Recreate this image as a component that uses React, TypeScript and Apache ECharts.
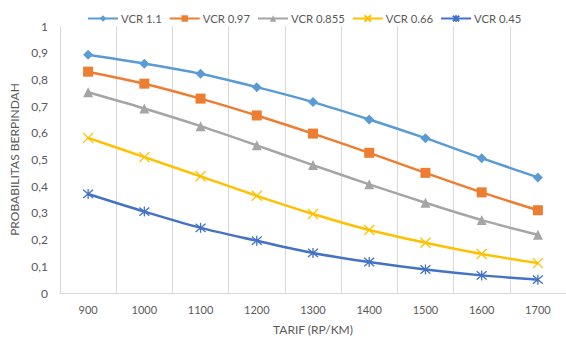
import React, { useEffect, useRef } from "react";
import * as echarts from "echarts";

const categories = ["900", "1000", "1100", "1200", "1300", "1400", "1500", "1600", "1700"];
const seriesNames = ["VCR 1.1", "VCR 0.97", "VCR 0.855", "VCR 0.66", "VCR 0.45"];
const vcr110 = [0.892, 0.859, 0.821, 0.771, 0.715, 0.65, 0.58, 0.505, 0.433];
const vcr097 = [0.829, 0.784, 0.728, 0.665, 0.597, 0.525, 0.45, 0.377, 0.31];
const vcr0855 = [0.752, 0.691, 0.625, 0.553, 0.479, 0.407, 0.338, 0.273, 0.218];
const vcr066 = [0.581, 0.509, 0.437, 0.364, 0.296, 0.236, 0.188, 0.146, 0.112];
const vcr045 = [0.371, 0.305, 0.244, 0.196, 0.15, 0.116, 0.088, 0.066, 0.05];
const yTicks = [0, 0.1, 0.2, 0.3, 0.4, 0.5, 0.6, 0.7, 0.8, 0.9, 1];

const colors = ["#5B9BD5", "#ED7D31", "#A5A5A5", "#FFC000", "#4472C4"];
const symbols = [
  "diamond",
  "rect",
  "triangle",
  "path://M0 0L10 10M10 0L0 10",
  "path://M0 0L10 10M10 0L0 10M5 -1L5 11",
];
const symbolSizes = [10, 10, 10, 10, 10];

export default function App() {
  const ref = useRef<HTMLDivElement>(null);
  useEffect(() => {
    if (!ref.current) return;
    const chart = echarts.init(ref.current, null, { renderer: "svg" });
    const data = [vcr110, vcr097, vcr0855, vcr066, vcr045];
    const font = "Lato, 'Open Sans', sans-serif";
    chart.setOption({
      animation: false,
      textStyle: { fontFamily: font },
      legend: {
        top: 8,
        left: 82,
        itemWidth: 30,
        itemHeight: 8,
        itemGap: 7,
        textStyle: { color: "#595959", fontSize: 11.3, fontFamily: font, padding: [0, 0, 0, -2] },
        data: seriesNames,
      },
      grid: { left: 60, right: -4, top: 26, bottom: 46 },
      xAxis: {
        type: "category",
        data: categories,
        boundaryGap: true,
        name: "TARIF (RP/KM)",
        nameLocation: "middle",
        nameGap: 30,
        nameTextStyle: { color: "#595959", fontSize: 12, fontFamily: font },
        axisLine: { show: true, lineStyle: { color: "#D9D9D9", width: 1 } },
        axisTick: { show: false },
        axisLabel: { color: "#595959", fontSize: 11, margin: 11, fontFamily: font },
        splitLine: { show: true, interval: 0, lineStyle: { color: "#D9D9D9", width: 1 } },
      },
      yAxis: {
        type: "value",
        min: 0,
        max: 1,
        interval: 0.1,
        name: "PROBABILITAS BERPINDAH",
        nameLocation: "middle",
        nameGap: 32,
        nameRotate: 90,
        nameTextStyle: { color: "#595959", fontSize: 12, fontFamily: font },
        axisLine: { show: false },
        axisTick: { show: false },
        splitLine: { show: false },
        axisLabel: {
          color: "#595959",
          fontSize: 12,
          margin: 12,
          fontFamily: font,
          formatter: (v: number) => {
            const t = yTicks.find((x) => Math.abs(x - v) < 1e-6);
            const val = t === undefined ? v : t;
            return String(Math.round(val * 10) / 10).replace(".", ",");
          },
        },
      },
      series: seriesNames.map((name, i) => ({
        name,
        type: "line",
        data: data[i],
        smooth: 0.3,
        symbol: symbols[i],
        symbolSize: symbolSizes[i],
        showAllSymbol: true,
        lineStyle: { color: colors[i], width: 2.5 },
        itemStyle: {
          color: colors[i],
          borderColor: colors[i],
          borderWidth: i >= 3 ? 1.3 : 0,
        },
        z: 10 - i,
      })),
    });
    return () => chart.dispose();
  }, []);
  return (
    <div
      ref={ref}
      style={{ position: "absolute", left: 0, top: 0, width: 566, height: 340 }}
    />
  );
}
